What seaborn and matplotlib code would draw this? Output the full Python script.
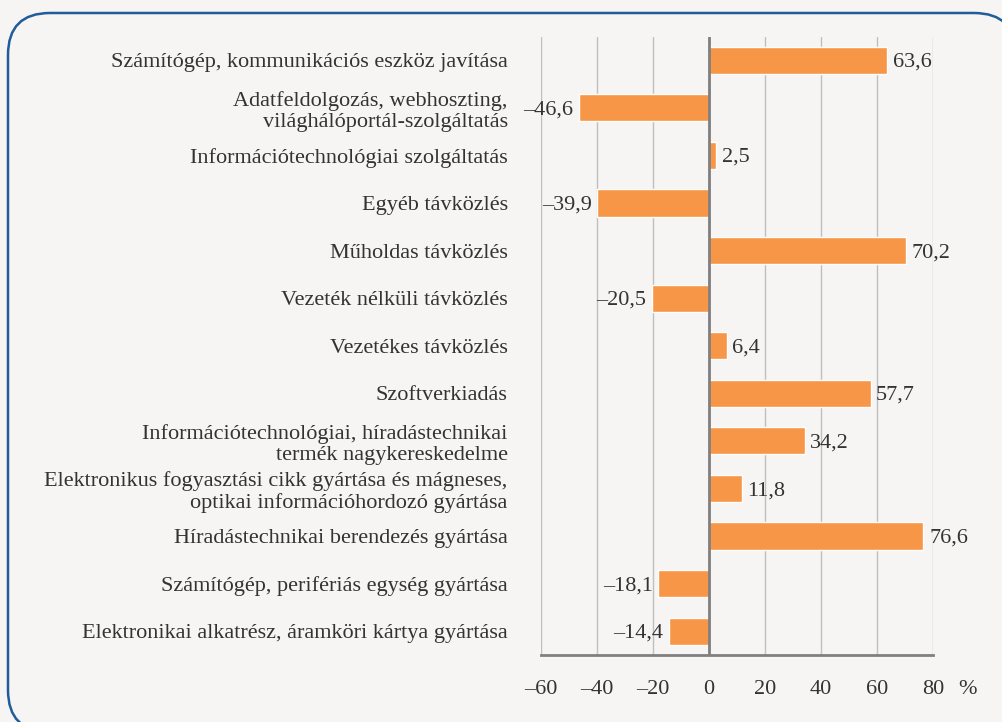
import matplotlib.pyplot as plt
import seaborn as sns
import pandas as pd
from matplotlib.patches import FancyBboxPatch

categories = [
    'Számítógép, kommunikációs eszköz javítása',
    'Adatfeldolgozás, webhoszting,\nvilághálóportál-szolgáltatás',
    'Információtechnológiai szolgáltatás',
    'Egyéb távközlés',
    'Műholdas távközlés',
    'Vezeték nélküli távközlés',
    'Vezetékes távközlés',
    'Szoftverkiadás',
    'Információtechnológiai, híradástechnikai\ntermék nagykereskedelme',
    'Elektronikus fogyasztási cikk gyártása és mágneses,\noptikai információhordozó gyártása',
    'Híradástechnikai berendezés gyártása',
    'Számítógép, perifériás egység gyártása',
    'Elektronikai alkatrész, áramköri kártya gyártása',
]
values = [63.6, -46.6, 2.5, -39.9, 70.2, -20.5, 6.4, 57.7, 34.2, 11.8, 76.6, -18.1, -14.4]
xticks = [-60, -40, -20, 0, 20, 40, 60, 80]

bg = '#f6f5f3'
text_col = '#333333'
fs = 16

sns.set_style('white', {'axes.facecolor': bg, 'figure.facecolor': bg})
plt.rcParams['font.family'] = ['Liberation Serif', 'DejaVu Serif']

df = pd.DataFrame({'cat': categories, 'val': values})

fig = plt.figure(figsize=(10.03, 7.22), dpi=100)
fig.patch.set_facecolor(bg)

# rounded frame in pixel units (y up); bottom and right edges run off the image.
# filled with the background colour so agg doesn't clip the curved path oddly
bgax = fig.add_axes([0, 0, 1, 1], zorder=-1)
bgax.add_patch(FancyBboxPatch((8, -10), 1008, 719,
                              boxstyle='round,pad=0,rounding_size=42',
                              facecolor=bg, edgecolor='#1f5c99',
                              linewidth=1.8, clip_on=False))
bgax.set_autoscale_on(False)
bgax.set_xlim(0, 1003)
bgax.set_ylim(0, 722)
bgax.axis('off')

ax = fig.add_axes([541 / 1003, 67 / 722, 392 / 1003, 618.5 / 722])
ax.set_facecolor(bg)

sns.barplot(data=df, x='val', y='cat', orient='h', color='#f79646',
            saturation=1, width=0.57, ax=ax, zorder=3)

ax.set_xlim(-60, 80)
ax.set_xticks(xticks)
ax.set_xticklabels([f'–{abs(t)}' if t < 0 else str(t) for t in xticks],
                   fontsize=fs, color=text_col)
ax.set_xlabel('')
ax.set_ylabel('')

for t in xticks:
    ax.axvline(t, color='#bfbfbf', linewidth=1, zorder=1)
ax.axvline(0, color='#7f7f7f', linewidth=2, zorder=4)

for s in ['top', 'right', 'left']:
    ax.spines[s].set_visible(False)
ax.spines['bottom'].set_color('#808080')
ax.spines['bottom'].set_linewidth(2)
ax.tick_params(axis='x', length=7, width=2, color='#808080', pad=11, direction='out')
ax.tick_params(axis='y', length=0, pad=24, labelsize=fs, labelcolor=text_col)
for lab in ax.get_yticklabels():
    lab.set_multialignment('right')
    lab.set_linespacing(1.15)

labels = [f'{v:.1f}'.replace('.', ',').replace('-', '–') for v in values]
anns = ax.bar_label(ax.containers[0], labels=labels, padding=4, fontsize=fs, color=text_col)
for a in anns:
    a.xyann = (a.xyann[0], -1.5)

fig.text(968 / 1003, 1 - 689 / 722, '%', fontsize=fs, color=text_col,
         ha='center', va='center')

fig.savefig('out.png', dpi=100, facecolor=bg)
